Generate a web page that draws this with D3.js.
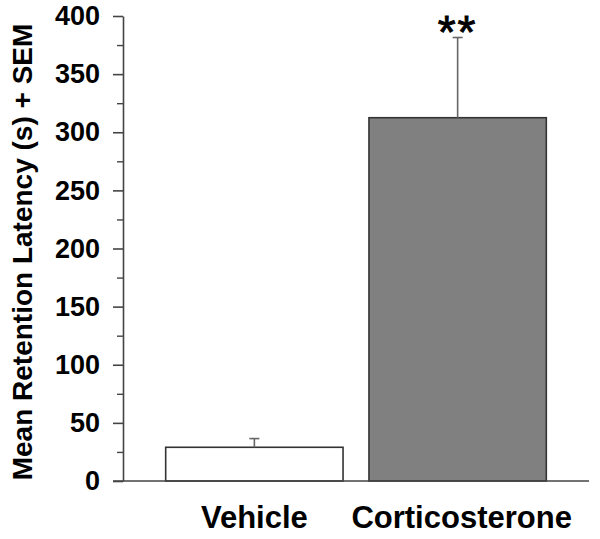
<!DOCTYPE html>
<html>
<head>
<meta charset="utf-8">
<script src="https://cdn.jsdelivr.net/npm/d3@7"></script>
<style>
  body { margin: 0; background: #fff; }
  text { font-family: Arial, "Liberation Sans", sans-serif; }
</style>
</head>
<body>
<svg id="chart" width="600" height="539"></svg>
<script>
const categories = ["Vehicle", "Corticosterone"];
const means = [29, 312.5];
const sems = [7.5, 69];
const significance = ["", "**"];
const majorTicks = [0, 50, 100, 150, 200, 250, 300, 350, 400];
const minorTicks = [25, 75, 125, 175, 225, 275, 325, 375];

const svg = d3.select("#chart");

const x = d3.scaleBand()
    .domain(categories)
    .range([123, 589])
    .paddingInner(0.1275)
    .paddingOuter(0.21);

const y = d3.scaleLinear()
    .domain([0, 400])
    .range([481, 16]);

const axisColor = "#444";

// y axis
const yAxis = svg.append("g")
    .attr("transform", "translate(123,0)")
    .call(d3.axisLeft(y).tickValues(majorTicks).tickSize(10).tickPadding(13).tickSizeOuter(0));
yAxis.select(".domain").attr("stroke", axisColor).attr("stroke-width", 1.6);
yAxis.selectAll(".tick line").attr("stroke", axisColor).attr("stroke-width", 1.6);
yAxis.selectAll(".tick text")
    .attr("fill", "#000")
    .style("font-size", "27px")
    .style("font-weight", "bold")
    .style("font-family", "Arial, 'Liberation Sans', sans-serif");

svg.append("g")
    .attr("transform", "translate(123,0)")
    .call(d3.axisLeft(y).tickValues(minorTicks).tickSize(6).tickFormat(""))
    .call(g => g.select(".domain").remove())
    .selectAll(".tick line").attr("stroke", axisColor).attr("stroke-width", 1.4);

// bars
svg.append("g").selectAll("rect")
    .data(categories)
    .join("rect")
    .attr("x", d => x(d))
    .attr("y", (d, i) => y(means[i]))
    .attr("width", x.bandwidth())
    .attr("height", (d, i) => y(0) - y(means[i]))
    .attr("fill", (d, i) => i === 0 ? "#fff" : "#808080")
    .attr("stroke", "#333")
    .attr("stroke-width", 1.6);

// error bars
const err = svg.append("g").selectAll("g")
    .data(categories)
    .join("g")
    .attr("stroke", "#666")
    .attr("stroke-width", 1.6);
err.append("line")
    .attr("x1", d => x(d) + x.bandwidth() / 2)
    .attr("x2", d => x(d) + x.bandwidth() / 2)
    .attr("y1", (d, i) => y(means[i]))
    .attr("y2", (d, i) => y(means[i] + sems[i]));
err.append("line")
    .attr("x1", d => x(d) + x.bandwidth() / 2 - 5)
    .attr("x2", d => x(d) + x.bandwidth() / 2 + 5)
    .attr("y1", (d, i) => y(means[i] + sems[i]))
    .attr("y2", (d, i) => y(means[i] + sems[i]));

// significance marks
svg.append("g").selectAll("text")
    .data(categories)
    .join("text")
    .attr("x", d => x(d) + x.bandwidth() / 2)
    .attr("y", (d, i) => y(means[i] + sems[i]) + 10)
    .attr("text-anchor", "middle")
    .attr("letter-spacing", 2)
    .attr("stroke", "#000")
    .attr("stroke-width", 0.9)
    .style("font-size", "46px")
    .text((d, i) => significance[i]);

// x axis baseline
svg.append("line")
    .attr("x1", 113).attr("x2", 589)
    .attr("y1", y(0)).attr("y2", y(0))
    .attr("stroke", axisColor)
    .attr("stroke-width", 1.6);

// category labels
svg.append("g").selectAll("text")
    .data(categories)
    .join("text")
    .attr("x", d => x(d) + x.bandwidth() / 2 + (d === "Corticosterone" ? 4 : 0))
    .attr("y", 528)
    .attr("text-anchor", "middle")
    .style("font-size", "31px")
    .style("font-weight", "bold")
    .text(d => d);

// y axis title
svg.append("text")
    .attr("transform", "translate(32,252) rotate(-90)")
    .attr("text-anchor", "middle")
    .style("font-size", "28px")
    .style("font-weight", "bold")
    .text("Mean Retention Latency (s) + SEM");
</script>
</body>
</html>
